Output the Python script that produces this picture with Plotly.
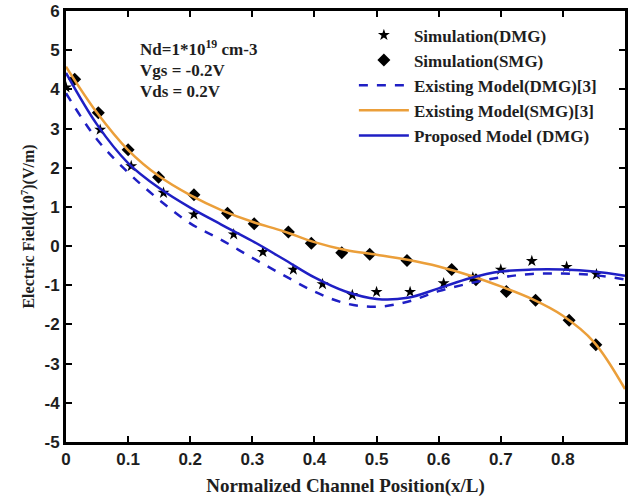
import plotly.graph_objects as go

# Simulation data (DMG) - star markers
sim_dmg_x = [0.0, 0.055, 0.105, 0.157, 0.206, 0.27, 0.317, 0.366, 0.413, 0.461, 0.50, 0.554, 0.608, 0.655, 0.70, 0.75, 0.806, 0.854]
sim_dmg_y = [4.05, 2.97, 2.04, 1.36, 0.81, 0.30, -0.15, -0.60, -0.97, -1.25, -1.17, -1.17, -0.95, -0.80, -0.60, -0.38, -0.53, -0.72]

# Simulation data (SMG) - diamond markers
sim_smg_x = [0.014, 0.052, 0.10, 0.149, 0.206, 0.26, 0.303, 0.358, 0.395, 0.444, 0.489, 0.549, 0.621, 0.66, 0.709, 0.756, 0.81, 0.853]
sim_smg_y = [4.26, 3.40, 2.46, 1.76, 1.31, 0.84, 0.57, 0.36, 0.07, -0.17, -0.21, -0.37, -0.60, -0.86, -1.16, -1.38, -1.89, -2.52]

# Model curves, sampled positions
curve_x = [0.0, 0.05, 0.1, 0.15, 0.2, 0.25, 0.3, 0.35, 0.4, 0.45, 0.5, 0.55, 0.6, 0.65, 0.7, 0.75, 0.8, 0.85, 0.9]
existing_dmg_y = [3.9, 2.72, 1.88, 1.18, 0.58, 0.16, -0.3, -0.74, -1.16, -1.46, -1.55, -1.42, -1.15, -0.95, -0.8, -0.71, -0.7, -0.74, -0.85]
existing_smg_y = [4.58, 3.4, 2.45, 1.78, 1.3, 0.92, 0.62, 0.38, 0.1, -0.1, -0.22, -0.35, -0.52, -0.75, -1.03, -1.35, -1.78, -2.45, -3.65]
proposed_dmg_y = [4.42, 3.1, 2.12, 1.48, 0.98, 0.55, 0.13, -0.33, -0.8, -1.16, -1.35, -1.32, -1.08, -0.82, -0.65, -0.6, -0.6, -0.65, -0.76]

x_ticks = [0, 0.1, 0.2, 0.3, 0.4, 0.5, 0.6, 0.7, 0.8]
x_tick_labels = ["0", "0.1", "0.2", "0.3", "0.4", "0.5", "0.6", "0.7", "0.8"]
y_ticks = [-5, -4, -3, -2, -1, 0, 1, 2, 3, 4, 5, 6]
y_tick_labels = ["-5", "-4", "-3", "-2", "-1", "0", "1", "2", "3", "4", "5", "6"]

param_lines = ["Nd=1*10<sup>19</sup> cm-3", "Vgs = -0.2V", "Vds = 0.2V"]

BLUE = "#1f1fc4"
ORANGE = "#eb9f3a"
SERIF = "Liberation Serif"
SANS = "Liberation Sans"
TXT = "#1e1e1e"

fig = go.Figure()
fig.add_trace(go.Scatter(x=sim_dmg_x, y=sim_dmg_y, mode="markers", name="Simulation(DMG)",
                         marker=dict(symbol="star", size=9, color="black")))
fig.add_trace(go.Scatter(x=sim_smg_x, y=sim_smg_y, mode="markers", name="Simulation(SMG)",
                         marker=dict(symbol="diamond", size=10, color="black")))
fig.add_trace(go.Scatter(x=curve_x, y=existing_dmg_y, mode="lines", name="Existing Model(DMG)[3]",
                         line=dict(color=BLUE, width=2.5, dash="dash", shape="spline")))
fig.add_trace(go.Scatter(x=curve_x, y=existing_smg_y, mode="lines", name="Existing Model(SMG)[3]",
                         line=dict(color=ORANGE, width=2.5, shape="spline")))
fig.add_trace(go.Scatter(x=curve_x, y=proposed_dmg_y, mode="lines", name="Proposed Model (DMG)",
                         line=dict(color=BLUE, width=2.5, shape="spline")))

axis_common = dict(showline=True, linewidth=3, linecolor="black", mirror="ticks",
                   ticks="inside", ticklen=6, tickwidth=2, tickcolor="black",
                   showgrid=False, zeroline=False,
                   tickfont=dict(family=SANS, size=17, color=TXT))

fig.update_xaxes(range=[0, 0.9], tickvals=x_ticks,
                 ticktext=["<b>" + t + "</b>" for t in x_tick_labels],
                 title=dict(text="<b>Normalized Channel Position(x/L)</b>",
                            font=dict(family=SERIF, size=19, color=TXT), standoff=11),
                 **axis_common)
fig.update_yaxes(range=[-5, 6], tickvals=y_ticks,
                 ticktext=["<b>" + t + "</b>" for t in y_tick_labels],
                 title=dict(text="<b>Electric Field(10<sup>7</sup>)(V/m)</b>",
                            font=dict(family=SERIF, size=16, color=TXT), standoff=6),
                 **axis_common)

for i, line in enumerate(param_lines):
    fig.add_annotation(xref="paper", yref="paper", x=0.128, y=[0.913, 0.863, 0.813][i],
                       xanchor="left", yanchor="middle", align="left", showarrow=False,
                       text="<b>" + line + "</b>",
                       font=dict(family=SERIF, size=17, color=TXT))

fig.update_layout(
    width=630, height=497,
    margin=dict(l=66, r=2, t=11, b=55),
    plot_bgcolor="white", paper_bgcolor="white",
    showlegend=True,
    legend=dict(x=0.515, y=0.985, xanchor="left", yanchor="top", bgcolor="rgba(0,0,0,0)",
                font=dict(family=SERIF, size=17, color=TXT), tracegroupgap=0,
                itemwidth=50),
)
fig.for_each_trace(lambda t: t.update(name="<b>" + t.name + "</b>"))

fig.write_html("out.html")
